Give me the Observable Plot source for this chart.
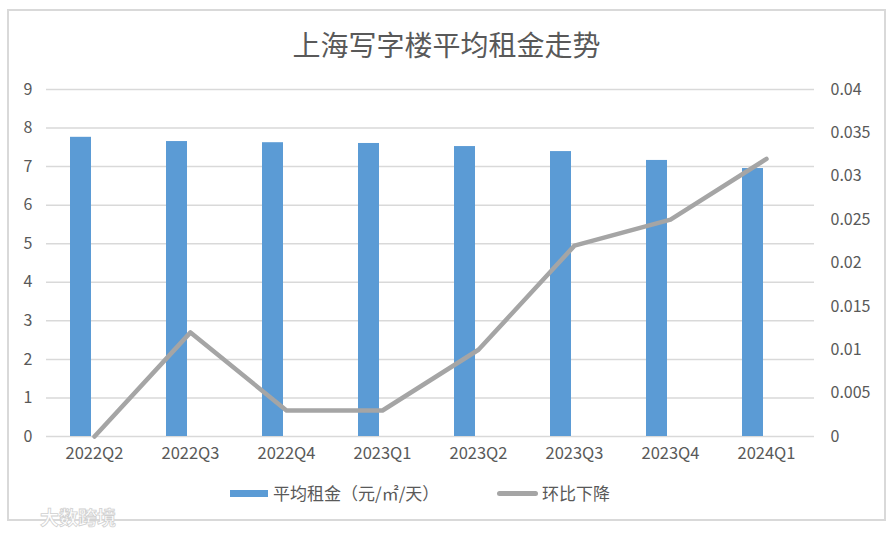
<!DOCTYPE html>
<html><head><meta charset="utf-8">
<script src="https://cdn.jsdelivr.net/npm/d3@7"></script>
<script src="https://cdn.jsdelivr.net/npm/@observablehq/plot@0.6"></script>
<style>
body{margin:0;width:893px;height:533px;position:relative;background:#fff;font-family:"Noto Sans CJK SC","Noto Sans",sans-serif;overflow:hidden}
#frame{position:absolute;left:7px;top:9px;width:879px;height:512px;border:2px solid #d9d9d9;box-sizing:border-box}
#title{position:absolute;left:0;width:893px;top:24px;text-align:center;font-size:28px;color:#595959;line-height:40px}
#chart{position:absolute;left:0;top:70px}
.lg{position:absolute;font-size:17px;color:#595959;line-height:24px;top:481px;white-space:nowrap}
.sw{position:absolute}
#wm{position:absolute;left:40px;top:503px;font-size:19px;color:#fff;-webkit-text-stroke:0.8px #d0d0d0;font-weight:700}
</style></head>
<body>
<div id="frame"></div>
<div id="title">上海写字楼平均租金走势</div>
<div id="chart"></div>
<div class="sw" style="left:230px;top:490px;width:38px;height:7px;background:#5b9bd5"></div>
<div class="lg" style="left:273px">平均租金（元/㎡/天）</div>
<div class="sw" style="left:497px;top:491px;width:41px;height:5px;border-radius:3px;background:#a5a5a5"></div>
<div class="lg" style="left:542px">环比下降</div>
<div id="wm">大数跨境</div>
<script>
const quarters = ["2022Q2","2022Q3","2022Q4","2023Q1","2023Q2","2023Q3","2023Q4","2024Q1"];
const rent = [7.76,7.65,7.62,7.60,7.52,7.39,7.16,6.95];
const decline = [0,0.012,0.003,0.003,0.010,0.022,0.025,0.032];
const leftTicks = [0,1,2,3,4,5,6,7,8,9];
const rightTicks = [0,0.005,0.01,0.015,0.02,0.025,0.03,0.035,0.04];
const rightMax = 0.04, leftMax = 9;
const k = leftMax / rightMax;
const data = quarters.map((q,i)=>({q, rent:rent[i], decline:decline[i]*k}));
const chart = Plot.plot({
  width:893, height:396, marginLeft:46, marginRight:79, marginTop:19, marginBottom:30,
  x:{domain:quarters, padding:0, axis:null},
  y:{domain:[0,leftMax], axis:null},
  style:{fontFamily:'"Noto Sans CJK SC","Noto Sans",sans-serif', fontSize:"16px", color:"#595959", background:"transparent"},
  marks:[
    Plot.gridY(leftTicks,{stroke:"#d9d9d9",strokeOpacity:1,strokeWidth:1.5}),
    Plot.barY(data,{x:"q",y:"rent",fill:"#5b9bd5",insetLeft:24,insetRight:51}),
    Plot.lineY(data,{x:"q",y:"decline",stroke:"#a5a5a5",strokeWidth:4.5,strokeLinejoin:"round"}),
    Plot.axisX({tickSize:0,tickPadding:11,fontSize:16.5,fill:"#595959",label:null}),
    Plot.axisY(leftTicks,{anchor:"left",tickSize:0,tickPadding:14,label:null,fill:"#595959",fontSize:16}),
    Plot.axisY(rightTicks.map(v=>v*k),{anchor:"right",tickSize:0,tickPadding:16,label:null,fill:"#595959",fontSize:16,
      tickFormat:d=>String(Math.round(d/k*1000)/1000)})
  ]
});
document.getElementById("chart").appendChild(chart);
</script>
</body></html>
